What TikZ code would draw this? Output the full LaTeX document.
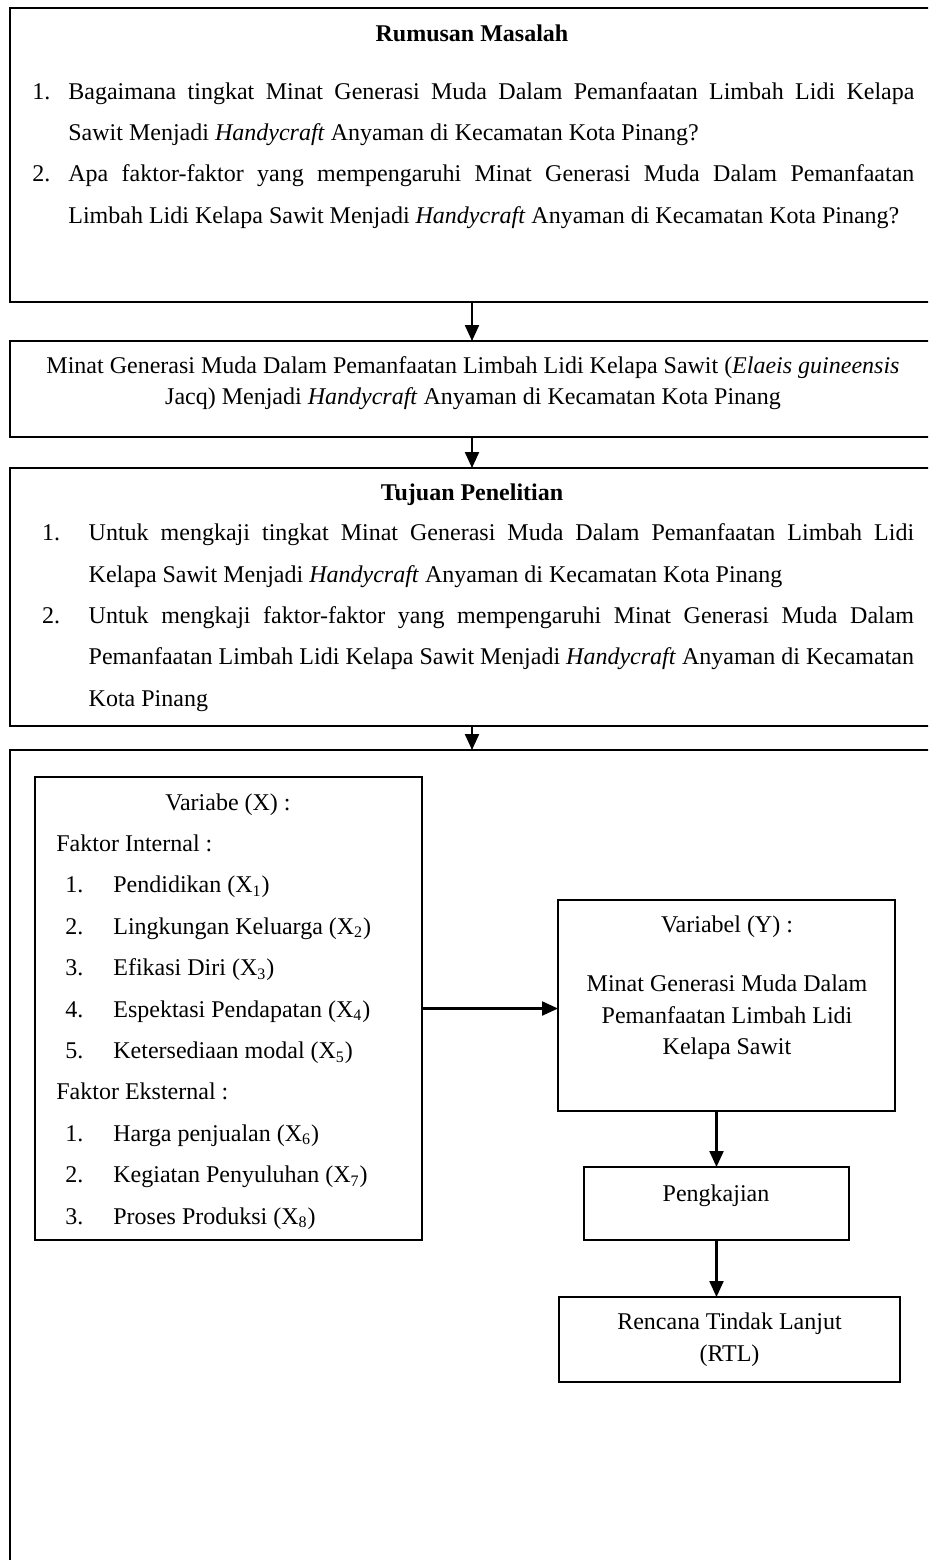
\documentclass[tikz,border=0pt]{standalone}
\usepackage{fontspec}
\setmainfont{Liberation Serif}
\usetikzlibrary{positioning, arrows.meta}

\begin{document}
\begin{tikzpicture}[x=0.5pt, y=-0.5pt, node distance=117pt, on grid,
    every node/.style={font=\fontsize{12}{14.4}\selectfont},
    frame/.style={draw, line width=1.3pt, rectangle, inner sep=0pt, outer sep=0pt, minimum width=462pt},
    cell/.style={draw, line width=1pt, rectangle, inner sep=0pt, outer sep=0pt},
    txt/.style={inner sep=0pt, anchor=base west},
    ctxt/.style={inner sep=0pt, anchor=base},
    >={Triangle[length=8pt, width=7pt]},
    link/.style={->, line width=1.1pt}]
    \clip (0,0) rectangle (928,1560);

    % outer boxes
    \node[frame, minimum height=147pt] (rumusan) at (472,155) {};
    \node[frame, minimum height=48pt] (judul) [below=117pt of rumusan] {};
    \node[frame, minimum height=129pt] (tujuan) [below=104pt of judul] {};
    \node[frame, minimum height=430pt] (kerangka) [below=291.5pt of tujuan] {};

    % rumusan masalah
    \node[ctxt] (rumusanjudul) at (472,41.7) {\textbf{Rumusan Masalah}};
    \node[txt] (rumusanisi) at (32,99) {\parbox[t]{441pt}{\fontsize{12}{20.7}\selectfont
        \hangindent=18pt\hangafter=1\makebox[18pt][l]{1.}Bagaimana tingkat Minat Generasi Muda Dalam Pemanfaatan Limbah Lidi Kelapa\linebreak Sawit Menjadi \textit{Handycraft} Anyaman di Kecamatan Kota Pinang?\par
        \hangindent=18pt\hangafter=1\makebox[18pt][l]{2.}Apa faktor-faktor yang mempengaruhi Minat Generasi Muda Dalam Pemanfaatan\linebreak Limbah Lidi Kelapa Sawit Menjadi \textit{Handycraft} Anyaman di Kecamatan Kota Pinang?}};

    % judul
    \node[ctxt] (judulisi) at (473,373) {\parbox[t]{460pt}{\fontsize{12}{15.9}\selectfont\centering
        Minat Generasi Muda Dalam Pemanfaatan Limbah Lidi Kelapa Sawit (\textit{Elaeis guineensis}\\
        Jacq) Menjadi \textit{Handycraft} Anyaman di Kecamatan Kota Pinang}};

    % tujuan penelitian
    \node[ctxt] (tujuanjudul) at (472,500) {\textbf{Tujuan Penelitian}};
    \node[txt] (tujuanisi) at (41.7,540.7) {\parbox[t]{436pt}{\fontsize{12}{20.7}\selectfont
        \hangindent=23.3pt\hangafter=1\makebox[23.3pt][l]{1.}Untuk mengkaji tingkat Minat Generasi Muda Dalam Pemanfaatan Limbah Lidi\linebreak Kelapa Sawit Menjadi \textit{Handycraft} Anyaman di Kecamatan Kota Pinang\par
        \hangindent=23.3pt\hangafter=1\makebox[23.3pt][l]{2.}Untuk mengkaji faktor-faktor yang mempengaruhi Minat Generasi Muda Dalam\linebreak Pemanfaatan Limbah Lidi Kelapa Sawit Menjadi \textit{Handycraft} Anyaman di Kecamatan\linebreak Kota Pinang}};

    % variabel x
    \node[cell, minimum width=193.5pt, minimum height=231.5pt] (varx) at (228.5,1008.5) {};
    \node[ctxt] (varxjudul) at (228,810) {Variabe (X) :};
    \node[txt] (varxisi) at (56,851.4) {\parbox[t]{180pt}{\fontsize{12}{20.7}\selectfont
        Faktor Internal :\\
        \hspace*{4.5pt}\makebox[24pt][l]{1.}Pendidikan (X\textsubscript{1})\\
        \hspace*{4.5pt}\makebox[24pt][l]{2.}Lingkungan Keluarga (X\textsubscript{2})\\
        \hspace*{4.5pt}\makebox[24pt][l]{3.}Efikasi Diri (X\textsubscript{3})\\
        \hspace*{4.5pt}\makebox[24pt][l]{4.}Espektasi Pendapatan (X\textsubscript{4})\\
        \hspace*{4.5pt}\makebox[24pt][l]{5.}Ketersediaan modal (X\textsubscript{5})\\
        Faktor Eksternal :\\
        \hspace*{4.5pt}\makebox[24pt][l]{1.}Harga penjualan (X\textsubscript{6})\\
        \hspace*{4.5pt}\makebox[24pt][l]{2.}Kegiatan Penyuluhan (X\textsubscript{7})\\
        \hspace*{4.5pt}\makebox[24pt][l]{3.}Proses Produksi (X\textsubscript{8})}};

    % variabel y
    \node[cell, minimum width=168.5pt, minimum height=105.5pt] (vary) at (726.5,1005.5) {};
    \node[ctxt] (varyjudul) at (727,932.7) {Variabel (Y) :};
    \node[ctxt] (varyisi) at (727,991.7) {\parbox[t]{165pt}{\fontsize{12}{15.8}\selectfont\centering
        Minat Generasi Muda Dalam\\ Pemanfaatan Limbah Lidi\\ Kelapa Sawit}};

    % pengkajian dan rtl
    \node[cell, minimum width=132.5pt, minimum height=36.5pt] (kaji) at (716.5,1203.5) {};
    \node[ctxt] (kajiisi) at (716,1201) {Pengkajian};
    \node[cell, minimum width=170.5pt, minimum height=42.5pt] (rtl) at (729.5,1339.5) {};
    \node[ctxt] (rtlisi) at (729.5,1329) {\parbox[t]{165pt}{\fontsize{12}{16}\selectfont\centering
        Rencana Tindak Lanjut\\ (RTL)}};

    \path[link]
    (rumusan) edge (judul)
    (judul) edge (tujuan)
    (tujuan) edge (kerangka)
    (varx.east) edge (varx.east -| vary.west)
    (kaji.north |- vary.south) edge (kaji.north)
    (kaji.south) edge (kaji.south |- rtl.north);
\end{tikzpicture}
\end{document}
